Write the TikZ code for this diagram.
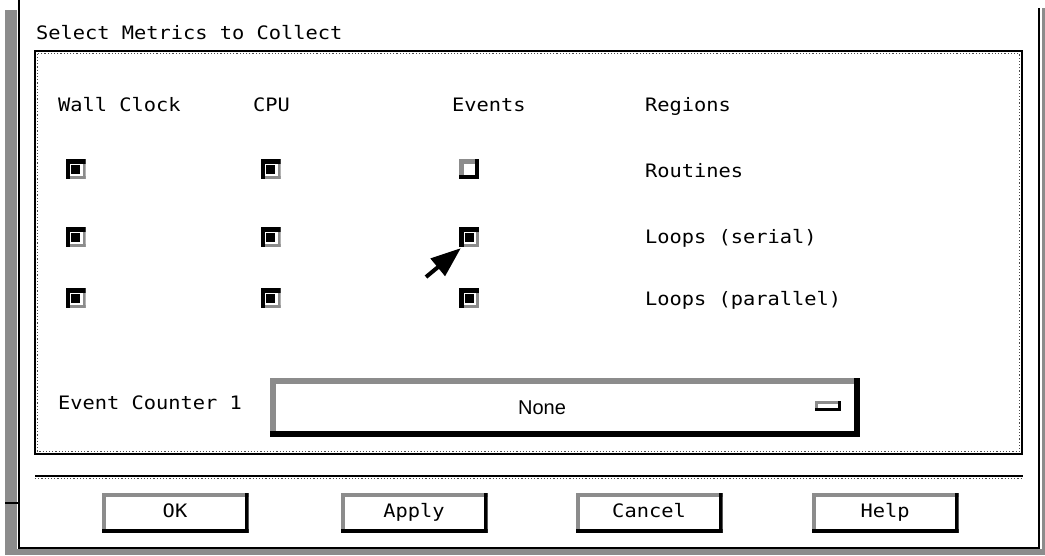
\documentclass[tikz,border=0pt]{standalone}
\usepackage{fontspec}
\newfontfamily\uifont[FakeStretch=1.1]{DejaVu Sans Mono}
\newfontfamily\propfont{Liberation Sans}
\usetikzlibrary{arrows.meta}
\colorlet{hatchc}{black!45}
\tikzset{
  ui/.style={font=\uifont\fontsize{18.5}{22}\selectfont},
  lbl/.style={ui, anchor=base west, inner sep=0},
  raisedbox/.style={inner sep=0, path picture={
      \fill[hatchc] (path picture bounding box.north west) rectangle ([yshift=-#1]path picture bounding box.north east);
      \fill[hatchc] (path picture bounding box.north west) rectangle ([xshift=#1]path picture bounding box.south west);
      \fill[black] ([yshift=#1]path picture bounding box.south west) rectangle (path picture bounding box.south east);
      \fill[black] ([xshift=-#1]path picture bounding box.north east) rectangle (path picture bounding box.south east);
  }},
  pushbtn/.style={raisedbox=4pt, minimum width=147pt, minimum height=40pt, ui, text height=13.5pt, text depth=4pt},
  cbon/.style={inner sep=0, minimum size=20pt, path picture={
      \fill[hatchc] ([yshift=3pt]path picture bounding box.south west) rectangle (path picture bounding box.south east);
      \fill[hatchc] ([xshift=-3pt]path picture bounding box.north east) rectangle (path picture bounding box.south east);
      \fill[black] (path picture bounding box.north west) rectangle ([yshift=-4.5pt]path picture bounding box.north east);
      \fill[black] (path picture bounding box.north west) rectangle ([xshift=4.5pt]path picture bounding box.south west);
      \fill[black] ([shift={(-4.5pt,-4.5pt)}]path picture bounding box.center) rectangle ([shift={(4.5pt,4.5pt)}]path picture bounding box.center);
  }},
  cboff/.style={raisedbox=4.5pt, minimum size=20pt},
  etch/.style={line width=2.5pt},
  etchdots/.style={line width=1.2pt, dotted, black!70},
  arrowtip/.style={line width=4pt, -{Triangle[length=30pt,width=22pt]}},
}
\begin{document}
\begin{tikzpicture}[x=1pt,y=-1pt]
\useasboundingbox (0,0) rectangle (1045,555);
% window border
\fill[hatchc] (5,10) rectangle (17,555);
\fill[hatchc] (17,549) rectangle (1045,555);
\fill[hatchc] (1042,8) rectangle (1045,549);
\draw[line width=2pt] (18.5,0) -- (18.5,547.5) -- (1039,547.5) -- (1039,8);
\draw[line width=1.5pt] (5,503) -- (18,503);
% title
\node[lbl] (title) at (36,39) {Select Metrics to Collect};
% group frame
\draw[etch] (35,51) rectangle (1022,454);
\draw[etchdots] (37.5,53.5) rectangle (1019.5,451.5);
% separator
\draw[etch] (35,476) -- (1023,476);
\draw[etchdots] (35,478.5) -- (1023,478.5);
% column headers
\node[lbl] (hwall) at (58,111) {Wall Clock};
\node[lbl] (hcpu) at (253,111) {CPU};
\node[lbl] (hev) at (452,111) {Events};
\node[lbl] (hreg) at (645,111) {Regions};
% checkboxes
\node[cbon] (c11) at (75.5,169) {};
\node[cbon] (c12) at (270.5,169) {};
\node[cboff] (c13) at (469,169) {};
\node[cbon] (c21) at (75.5,237) {};
\node[cbon] (c22) at (270.5,237) {};
\node[cbon] (c23) at (469,237) {};
\node[cbon] (c31) at (75.5,298) {};
\node[cbon] (c32) at (270.5,298) {};
\node[cbon] (c33) at (469,298) {};
% row labels
\node[lbl] (rrout) at (645,177) {Routines};
\node[lbl] (rser) at (645,243) {Loops (serial)};
\node[lbl] (rpar) at (645,305) {Loops (parallel)};
% arrow
\coordinate (atail) at (426,277);
\draw[arrowtip] (atail) -- ([shift={(2pt,-1pt)}]c23.south west);
% event counter
\node[lbl] (evc) at (58,409) {Event Counter 1};
\node[raisedbox=6pt, minimum width=590pt, minimum height=59pt] (menu) at (565,407.5) {};
\node[font=\propfont\fontsize{20}{24}\selectfont] (none) at (542,408) {None};
\node[raisedbox=3pt, minimum width=26pt, minimum height=10pt] (ind) at (828,406) {};
% buttons
\node[pushbtn] (ok) at (175,513) {OK};
\node[pushbtn] (apply) at (414,513) {Apply};
\node[pushbtn] (cancel) at (649,513) {Cancel};
\node[pushbtn] (help) at (885,513) {Help};
\end{tikzpicture}
\end{document}
